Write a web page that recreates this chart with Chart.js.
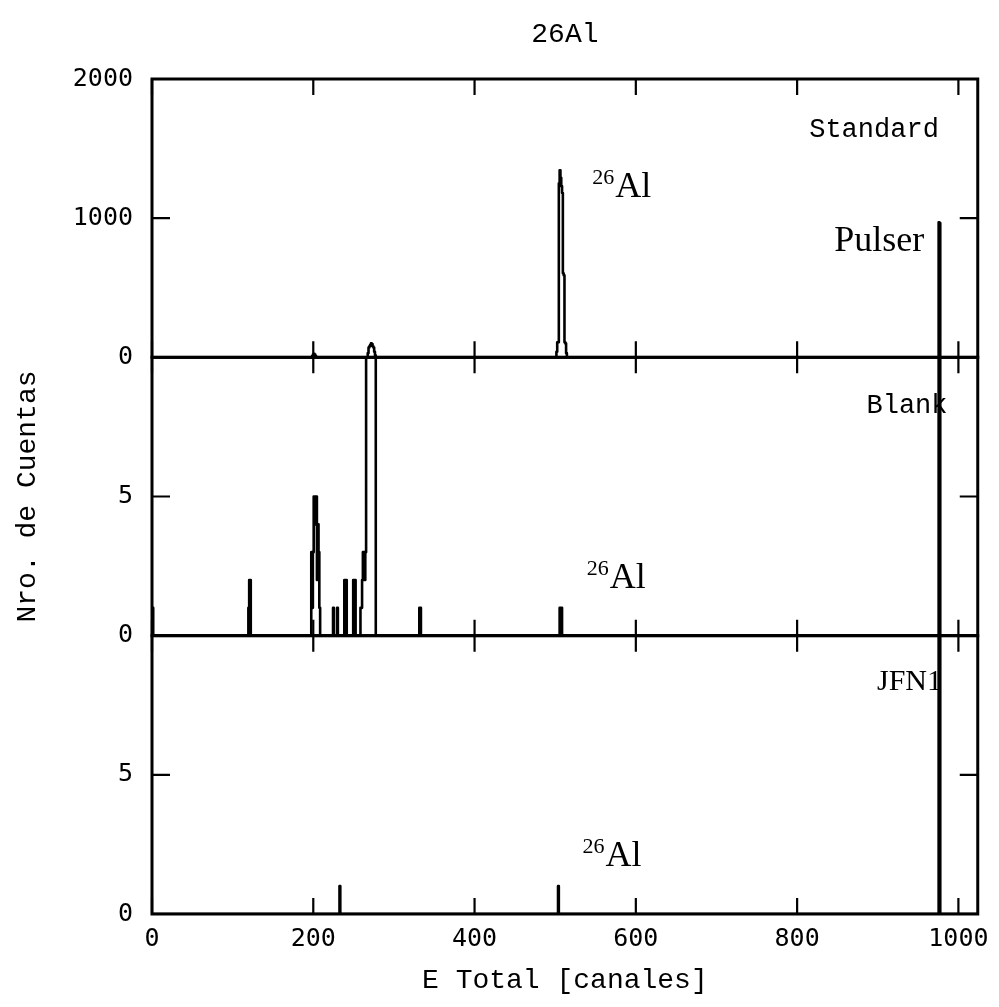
<!DOCTYPE html>
<html>
<head>
<meta charset="utf-8">
<title>26Al</title>
<script src="https://cdn.jsdelivr.net/npm/chart.js@4/dist/chart.umd.min.js"></script>
<style>
  html, body { margin: 0; padding: 0; background: #fff; }
  canvas { display: block; }
</style>
</head>
<body>
<canvas id="spectra" width="999" height="1007"></canvas>
<script>
const CHANNEL_COUNT = 1024;
const channelTicks = [0, 200, 400, 600, 800, 1000];
const standardTicks = [0, 1000, 2000];
const countTicks = [0, 5];

// Standard: channel / counts (empty channels are zero)
const standardChannels = [199, 200, 201, 202, 203,
  268, 269, 270, 271, 272, 273, 274, 275, 276, 277,
  502, 503, 504, 505, 506, 507, 508, 509, 510, 511, 512, 513, 514,
  976, 977];
const standardCounts = [10, 20, 25, 20, 10,
  30, 70, 80, 90, 100, 95, 80, 70, 40, 15,
  40, 108, 108, 1250, 1344, 1290, 1230, 1180, 604, 590, 108, 100, 30,
  971, 965];

// Blank
const blankChannels = [0, 1, 120, 121, 122,
  198, 199, 200, 201, 202, 203, 204, 205, 206, 207, 208,
  225, 230, 239, 240, 241, 250, 251, 252,
  259, 260, 261, 262, 263, 264, 265,
  266, 267, 268, 269, 270, 271, 272, 273, 274, 275, 276, 277,
  332, 333, 506, 507, 508, 976, 977];
const blankCounts = [1, 1, 1, 2, 2,
  3, 1, 3, 5, 5, 4, 5, 2, 4, 3, 1,
  1, 1, 2, 2, 2, 2, 2, 2,
  1, 1, 2, 3, 3, 2, 3,
  18, 40, 65, 80, 95, 100, 95, 85, 70, 50, 30, 14,
  1, 1, 1, 1, 1, 950, 940];

// JFN1
const jfnChannels = [233, 504, 976, 977];
const jfnCounts = [1, 1, 955, 945];

// text drawn inside the panels, placed in channel / count units
const panelNotes = [
  { axis: 'yStd', text: 'Standard', x: 815, y: 1580, font: '27px "Liberation Mono"' },
  { axis: 'yStd', text: 'Pulser', x: 846, y: 762, font: '36px "Liberation Serif"' },
  { axis: 'yStd', mass: '26', text: 'Al', x: 546, y: 1150, font: '36px "Liberation Serif"' },
  { axis: 'yBlank', text: 'Blank', x: 886, y: 8.0, font: '27px "Liberation Mono"' },
  { axis: 'yBlank', mass: '26', text: 'Al', x: 539, y: 1.72, font: '36px "Liberation Serif"' },
  { axis: 'yJfn', text: 'JFN1', x: 899, y: 8.05, font: '30px "Liberation Serif"' },
  { axis: 'yJfn', mass: '26', text: 'Al', x: 534, y: 1.72, font: '36px "Liberation Serif"' }
];

const tickFont = { family: 'DejaVu Sans Mono', size: 25 };
const titleFont = { family: 'Liberation Mono', size: 28, weight: 'normal' };

function buildSpectrum(channels, counts) {
  const points = [];
  for (let ch = 0; ch < CHANNEL_COUNT; ch++) points.push({ x: ch, y: 0 });
  channels.forEach((ch, i) => { points[ch].y = counts[i]; });
  return points;
}

function trace(label, axis, points) {
  return {
    label: label,
    data: points,
    yAxisID: axis,
    borderColor: '#000',
    borderWidth: 2.6,
    borderJoinStyle: 'round',
    stepped: 'middle',
    pointRadius: 0,
    fill: false
  };
}

function fixedTicks(values) {
  return scale => { scale.ticks = values.map(v => ({ value: v })); };
}

function panelAxis(max, values, title) {
  return {
    type: 'linear',
    position: 'left',
    stack: 'panels',
    stackWeight: 1,
    min: 0,
    max: max,
    afterBuildTicks: fixedTicks(values),
    afterFit: scale => { scale.width = 152; },
    grid: { display: false, drawTicks: false },
    border: { display: false },
    ticks: { font: tickFont, color: '#000', padding: 19, callback: v => String(v) },
    title: title
      ? { display: true, text: title, font: titleFont, color: '#000', padding: { top: 11, bottom: 0 } }
      : { display: false }
  };
}

// keep each spectrum inside its own panel
const panelClip = {
  id: 'panelClip',
  beforeDatasetDraw(chart, args) {
    const { ctx, scales } = chart;
    const y = scales[args.meta.yAxisID];
    ctx.save();
    ctx.beginPath();
    ctx.rect(scales.x.left, y.top, scales.x.right - scales.x.left, y.bottom - y.top);
    ctx.clip();
  },
  afterDatasetDraw(chart) {
    chart.ctx.restore();
  }
};

const panelText = {
  id: 'panelText',
  beforeDatasetsDraw(chart) {
    const { ctx, scales } = chart;
    ctx.save();
    ctx.fillStyle = '#000';
    ctx.textAlign = 'left';
    ctx.textBaseline = 'alphabetic';
    panelNotes.forEach(n => {
      let px = scales.x.getPixelForValue(n.x);
      const py = scales[n.axis].getPixelForValue(n.y);
      if (n.mass) {
        ctx.font = '22px "Liberation Serif"';
        ctx.fillText(n.mass, px, py - 13);
        px += ctx.measureText(n.mass).width + 1;
      }
      ctx.font = n.font;
      ctx.fillText(n.text, px, py);
    });
    ctx.restore();
  }
};

// boxes and inward tick marks for the three panels
const panelFrame = {
  id: 'panelFrame',
  afterDatasetsDraw(chart) {
    const { ctx, scales } = chart;
    const x = scales.x;
    ctx.save();
    ctx.strokeStyle = '#000';
    ['yStd', 'yBlank', 'yJfn'].forEach(id => {
      const y = scales[id];
      ctx.lineWidth = 3;
      ctx.strokeRect(x.left, y.top, x.right - x.left, y.bottom - y.top);
      ctx.lineWidth = 2.2;
      ctx.beginPath();
      channelTicks.forEach(v => {
        const px = x.getPixelForValue(v);
        ctx.moveTo(px, y.top);
        ctx.lineTo(px, y.top + 16);
        ctx.moveTo(px, y.bottom);
        ctx.lineTo(px, y.bottom - 16);
      });
      y.ticks.forEach(t => {
        if (t.value <= y.min || t.value >= y.max) return;
        const py = y.getPixelForValue(t.value);
        ctx.moveTo(x.left, py);
        ctx.lineTo(x.left + 18, py);
        ctx.moveTo(x.right, py);
        ctx.lineTo(x.right - 18, py);
      });
      ctx.stroke();
    });
    ctx.restore();
  }
};

new Chart(document.getElementById('spectra').getContext('2d'), {
  type: 'line',
  data: {
    datasets: [
      trace('Standard', 'yStd', buildSpectrum(standardChannels, standardCounts)),
      trace('Blank', 'yBlank', buildSpectrum(blankChannels, blankCounts)),
      trace('JFN1', 'yJfn', buildSpectrum(jfnChannels, jfnCounts))
    ]
  },
  options: {
    responsive: false,
    animation: false,
    parsing: false,
    normalized: true,
    layout: { padding: { left: 0, right: 18, top: 0, bottom: 0 } },
    plugins: {
      legend: { display: false },
      tooltip: { enabled: false },
      title: {
        display: true,
        text: '26Al',
        fullSize: false,
        color: '#000',
        font: titleFont,
        padding: { top: 18, bottom: 27.4 }
      }
    },
    scales: {
      x: {
        type: 'linear',
        min: 0,
        max: CHANNEL_COUNT,
        afterBuildTicks: fixedTicks(channelTicks),
        afterFit: scale => { scale.height = 93; },
        grid: { display: false, drawTicks: false },
        border: { display: false },
        ticks: { font: tickFont, color: '#000', padding: 10, maxRotation: 0, callback: v => String(v) },
        title: { display: true, text: 'E Total [canales]', font: titleFont, color: '#000', padding: { top: 0, bottom: 10 } }
      },
      yJfn: panelAxis(10, countTicks),
      yBlank: panelAxis(10, countTicks, 'Nro. de Cuentas'),
      yStd: panelAxis(2000, standardTicks)
    }
  },
  plugins: [panelClip, panelText, panelFrame]
});
</script>
</body>
</html>
